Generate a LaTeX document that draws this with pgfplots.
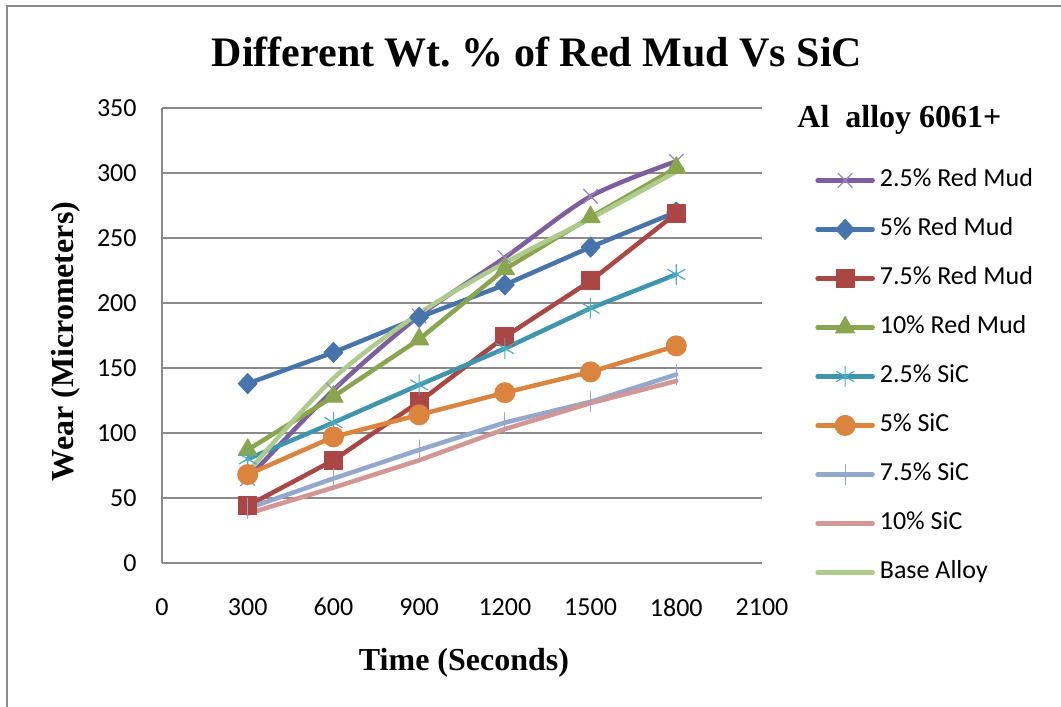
\documentclass[border=0pt]{standalone}
\usepackage{fontspec}
\setmainfont{Carlito}
\newfontfamily\tnr{Liberation Serif}
\usepackage{pgfplots}
\pgfplotsset{compat=1.18}
\frenchspacing
\definecolor{cPur}{HTML}{7D5FA0}
\definecolor{cPurM}{HTML}{9A85BE}
\definecolor{cBlue}{HTML}{4674AB}
\definecolor{cRed}{HTML}{AA4643}
\definecolor{cGreen}{HTML}{89A54E}
\definecolor{cTeal}{HTML}{3D96AE}
\definecolor{cTealM}{HTML}{4BACC6}
\definecolor{cOrange}{HTML}{DB843D}
\definecolor{cLBlue}{HTML}{92A8CD}
\definecolor{cPink}{HTML}{D49694}
\definecolor{cLGreen}{HTML}{ADCB8B}
\definecolor{cGrid}{HTML}{8A8A8A}
\begin{document}
\begin{tikzpicture}
\useasboundingbox (0pt,0pt) rectangle (530.5pt,353.5pt);
\fill[white] (0pt,0pt) rectangle (530.5pt,353.5pt);
\draw[color=cGrid, line width=1.2pt] (3.5pt,-5pt) -- (3.5pt,350.5pt) -- (540pt,350.5pt);
\node[font=\tnr\bfseries\fontsize{21}{24}\selectfont, anchor=base] at (268.5pt,320pt) {Different Wt.\ \% of Red Mud Vs SiC};
\node[font=\tnr\bfseries\fontsize{16}{19}\selectfont, anchor=base west, inner sep=0pt] at (398.5pt,289.5pt) {Al\ \ alloy 6061+};
\node[font=\tnr\bfseries\fontsize{16}{19}\selectfont, anchor=base, rotate=90, inner sep=0pt] at (36.5pt,182.75pt) {Wear (Micrometers)};
\node[font=\tnr\bfseries\fontsize{16}{19}\selectfont, anchor=base, inner sep=0pt] at (232pt,18pt) {Time (Seconds)};
\coordinate (O) at (81pt,72pt);
\begin{axis}[
  at={(O)}, anchor=south west,
  scale only axis, width=300pt, height=227.5pt,
  xmin=0, xmax=2100, ymin=0, ymax=350,
  xtick={0,300,...,2100}, ytick={0,50,...,350},
  axis x line=bottom, axis y line=left,
  axis line style={-, draw=cGrid, line width=0.75pt},
  ymajorgrids, grid style={draw=cGrid, line width=0.75pt},
  major tick length=0pt,
  clip=false,
  /pgf/number format/1000 sep={},
  /pgf/number format/assume math mode=true,
  ticklabel style={font=\fontsize{13}{15}\selectfont},
  yticklabel style={anchor=east, inner sep=0pt, xshift=-12.5pt},
  xticklabel style={anchor=north, inner sep=0pt, yshift=-17.5pt},
  legend image code/.code={\draw[mark repeat=2,mark phase=2] plot coordinates {(0pt,0pt)(13.75pt,0pt)(27.5pt,0pt)};},
  legend cell align=left,
  legend style={at={(1.0883,0.868)}, anchor=north west, draw=none, fill=none, inner sep=0pt,
    row sep=12.5pt, column sep=2.5pt,
    nodes={inner sep=0pt, text height=9pt, text depth=3pt},
    font=\fontsize{13}{15}\selectfont},
  every axis plot/.append style={line width=2.25pt, line join=round, line cap=round},
]
\addplot[color=cPur, smooth, mark=x, mark size=5pt, mark options={solid, color=cPurM, line width=0.6pt}]
  coordinates {(300,65)(600,133)(900,190)(1200,235)(1500,282)(1800,309)};
\addlegendentry{2.5\% Red Mud}
\addplot[color=cBlue, mark=diamond*, mark size=5pt, mark options={solid, fill=cBlue, line width=0.5pt, xscale=1.25}]
  coordinates {(300,138)(600,162)(900,189)(1200,214)(1500,243)(1800,270)};
\addlegendentry{5\% Red Mud}
\addplot[color=cRed, mark=square*, mark size=4.5pt, mark options={solid, fill=cRed, line width=0.5pt}]
  coordinates {(300,44)(600,79)(900,124)(1200,174)(1500,217)(1800,269)};
\addlegendentry{7.5\% Red Mud}
\addplot[color=cGreen, mark=triangle*, mark size=5.5pt, mark options={solid, fill=cGreen, line width=0.5pt}]
  coordinates {(300,87)(600,128)(900,172)(1200,226)(1500,266)(1800,304)};
\addlegendentry{10\% Red Mud}
\addplot[color=cTeal, mark=asterisk, mark size=5pt, mark options={solid, color=cTealM, line width=0.6pt}]
  coordinates {(300,80)(600,108)(900,137)(1200,165)(1500,196)(1800,222)};
\addlegendentry{2.5\% SiC}
\addplot[color=cOrange, mark=*, mark size=5pt, mark options={solid, fill=cOrange, line width=0.5pt}]
  coordinates {(300,68)(600,97)(900,114)(1200,131)(1500,147)(1800,167)};
\addlegendentry{5\% SiC}
\addplot[color=cLBlue, mark=|, mark size=5pt, mark options={solid, line width=0.6pt}]
  coordinates {(300,42)(600,65)(900,87)(1200,108)(1500,124)(1800,145)};
\addlegendentry{7.5\% SiC}
\addplot[color=cPink, no markers]
  coordinates {(300,38)(600,58)(900,79)(1200,103)(1500,123)(1800,140)};
\addlegendentry{10\% SiC}
\addplot[color=cLGreen, smooth, no markers]
  coordinates {(300,70)(600,142)(900,192)(1200,231)(1500,265)(1800,301)};
\addlegendentry{Base Alloy}
\end{axis}
\end{tikzpicture}
\end{document}
